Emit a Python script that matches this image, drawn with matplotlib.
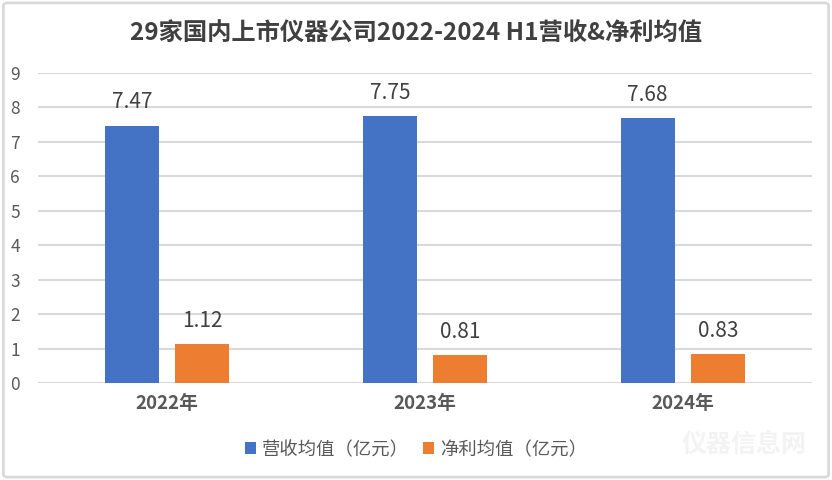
import numpy as np
import matplotlib
matplotlib.use('Agg')
import matplotlib.pyplot as plt
from matplotlib.patches import FancyBboxPatch

plt.rcParams['font.family'] = ['Noto Sans CJK SC', 'DejaVu Sans']

years = ['2022年', '2023年', '2024年']
revenue = [7.47, 7.75, 7.68]
profit = [1.12, 0.81, 0.83]
series_names = ['营收均值（亿元）', '净利均值（亿元）']
title = '29家国内上市仪器公司2022-2024 H1营收&净利均值'

blue = '#4472C4'
orange = '#ED7D31'
grid_c = '#D9D9D9'
txt_c = '#595959'


def main():
    fig = plt.figure(figsize=(8.32, 4.8), dpi=100)
    ax = fig.add_axes([0.0457, 0.202, 0.930, 0.646])

    x = np.arange(len(years))
    w = 0.21
    off = 0.136
    ax.bar(x - off, revenue, w, color=blue, label=series_names[0], zorder=3)
    ax.bar(x + off, profit, w, color=orange, label=series_names[1], zorder=3)

    for xi, v in zip(x - off, revenue):
        ax.annotate(f'{v:.2f}', (xi, v), xytext=(0, 9), textcoords='offset points',
                    ha='center', va='bottom', fontsize=15, color='#404040')
    for xi, v in zip(x + off, profit):
        ax.annotate(f'{v:.2f}', (xi, v), xytext=(0, 9), textcoords='offset points',
                    ha='center', va='bottom', fontsize=15, color='#404040')

    ax.set_xlim(-0.5, 2.5)
    ax.set_ylim(0, 9)
    ax.set_yticks(range(0, 10))
    ax.set_xticks(x)
    ax.set_xticklabels(years, fontsize=13.5, fontweight='bold', color=txt_c)
    ax.tick_params(axis='y', labelsize=12.5, colors=txt_c, length=0, pad=13)
    ax.tick_params(axis='x', length=0, pad=8)
    ax.grid(axis='y', color=grid_c, linewidth=1.5, zorder=0)
    for s in ax.spines.values():
        s.set_visible(False)

    fig.text(0.5, 0.93, title, ha='center', va='center', fontsize=17.5,
             fontweight='bold', color='#404040')

    leg = fig.legend(loc='center', bbox_to_anchor=(0.5, 0.063), ncol=2, frameon=False,
                     fontsize=13.2, handlelength=0.6, handleheight=0.6,
                     handletextpad=0.3, columnspacing=0.8)
    for t in leg.get_texts():
        t.set_color(txt_c)

    # watermark
    fig.text(0.895, 0.07, '仪器信息网', ha='center', va='center', fontsize=18,
             fontweight='bold', color='#F3F3F3', zorder=0)

    border = FancyBboxPatch((0.004, 0.006), 0.992, 0.988, boxstyle='round,pad=0,rounding_size=0.006',
                            transform=fig.transFigure, fill=False, edgecolor=grid_c, linewidth=2)
    fig.patches.append(border)

    fig.savefig('out.png', dpi=100)


if __name__ == '__main__':
    main()
